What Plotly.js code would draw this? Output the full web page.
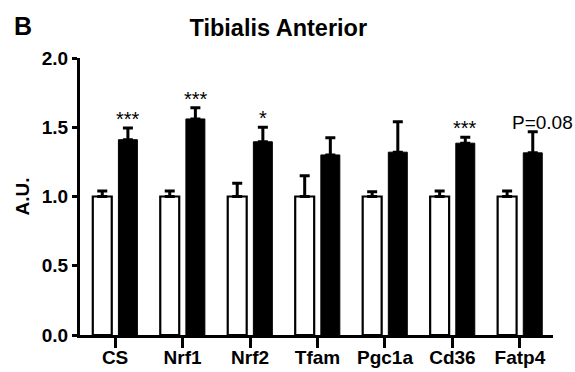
<!DOCTYPE html>
<html>
<head>
<meta charset="utf-8">
<script src="https://cdn.plot.ly/plotly-3.0.1.min.js"></script>
<style>html,body{margin:0;padding:0;background:#fff;}#chart{width:575px;height:372px;}</style>
</head>
<body>
<div id="chart"></div>
<script>
const categories = ["CS", "Nrf1", "Nrf2", "Tfam", "Pgc1a", "Cd36", "Fatp4"];
const controlValues = [1.0, 1.0, 1.0, 1.0, 1.0, 1.0, 1.0];
const controlErrors = [0.04, 0.04, 0.095, 0.15, 0.035, 0.04, 0.04];
const treatedValues = [1.41, 1.56, 1.395, 1.30, 1.32, 1.385, 1.315];
const treatedErrors = [0.085, 0.08, 0.105, 0.125, 0.22, 0.043, 0.152];
const sigLabels = ["***", "***", "*", "", "", "***", "P=0.08"];
const yTicks = [0, 0.5, 1.0, 1.5, 2.0];
const yTickLabels = ["0.0", "0.5", "1.0", "1.5", "2.0"];

const FONT = "Liberation Sans, Arial, sans-serif";

const traces = [
  {
    type: "bar", x: categories, y: controlValues, name: "Control",
    marker: {color: "#ffffff", line: {color: "#000000", width: 2.2}},
    error_y: {type: "data", array: controlErrors, arrayminus: controlValues.map(() => 0), symmetric: false,
      color: "#000000", thickness: 3, width: 5},
    hoverinfo: "none"
  },
  {
    type: "bar", x: categories, y: treatedValues, name: "Treated",
    marker: {color: "#000000", line: {color: "#000000", width: 1}},
    error_y: {type: "data", array: treatedErrors, arrayminus: treatedValues.map(() => 0), symmetric: false,
      color: "#000000", thickness: 3, width: 5},
    hoverinfo: "none"
  }
];

const annotations = [];
categories.forEach((c, i) => {
  const lab = sigLabels[i];
  if (!lab) return;
  const isP = lab.indexOf("P") === 0;
  annotations.push({
    x: i, xref: "x", y: treatedValues[i] + treatedErrors[i], yref: "y",
    text: lab, showarrow: false, xanchor: "center", yanchor: "bottom",
    xshift: 13 + (isP ? 10 : 0), yshift: isP ? -3 : -4,
    font: {family: FONT, size: isP ? 19 : 20, color: "#000"}
  });
});
annotations.push({
  x: (12 - 80) / (575 - 80 - 22), y: (372 - 37 - 26) / (372 - 58 - 37),
  xref: "paper", yref: "paper", text: "<b>B</b>", showarrow: false,
  xanchor: "left", yanchor: "middle", font: {family: FONT, size: 25, color: "#000"}
});

const layout = {
  width: 575, height: 372,
  margin: {l: 80, r: 22, t: 58, b: 37, pad: 0},
  paper_bgcolor: "#ffffff", plot_bgcolor: "#ffffff",
  showlegend: false,
  barmode: "group", bargap: 0.24, bargroupgap: 0.26,
  title: {text: "<b>Tibialis Anterior</b>", xref: "container", yref: "container", x: 0.484, y: 0.925,
    xanchor: "center", yanchor: "middle", font: {family: FONT, size: 23.5, color: "#000"}},
  xaxis: {
    type: "category", range: [-0.52, 6.49], fixedrange: true,
    showline: true, linecolor: "#000", linewidth: 3, showgrid: false, zeroline: false,
    ticks: "outside", ticklen: 10, tickwidth: 3, tickcolor: "#000", ticklabelstandoff: -7,
    tickfont: {family: FONT, size: 19, color: "#000", weight: "bold"}
  },
  yaxis: {
    range: [0, 2.0], fixedrange: true,
    tickvals: yTicks, ticktext: yTickLabels,
    showline: true, linecolor: "#000", linewidth: 3, showgrid: false, zeroline: false,
    ticks: "outside", ticklen: 5, tickwidth: 3, tickcolor: "#000",
    tickfont: {family: FONT, size: 19, color: "#000", weight: "bold"},
    title: {text: "<b>A.U.</b>", standoff: 8, font: {family: FONT, size: 19, color: "#000"}}
  },
  annotations: annotations
};

Plotly.newPlot("chart", traces, layout, {displayModeBar: false, staticPlot: true});
</script>
</body>
</html>
